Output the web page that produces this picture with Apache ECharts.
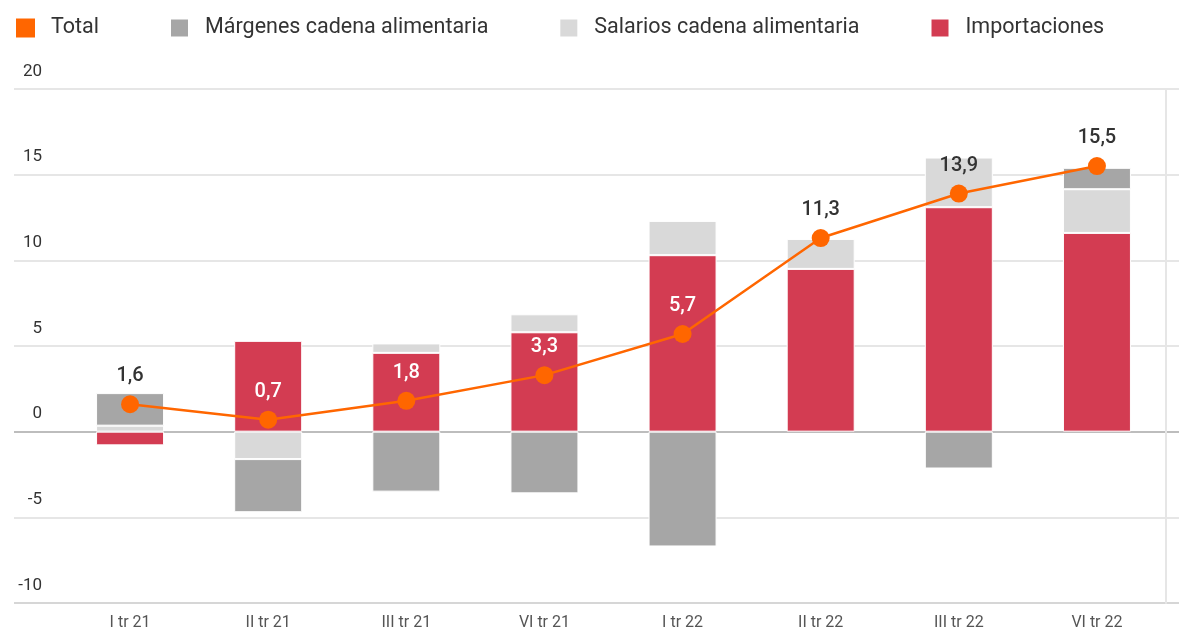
<!DOCTYPE html>
<html>
<head>
<meta charset="utf-8">
<script src="https://cdn.jsdelivr.net/npm/echarts@6/dist/echarts.min.js"></script>
<style>
  html, body { margin: 0; padding: 0; background: #fff; }
  #chart { width: 1179px; height: 632px; }
</style>
</head>
<body>
<div id="chart"></div>
<script>
// datos
var categories = ['I tr 21', 'II tr 21', 'III tr 21', 'VI tr 21', 'I tr 22', 'II tr 22', 'III tr 22', 'VI tr 22'];
var importaciones = [-0.8, 5.3, 4.6, 5.8, 10.3, 9.5, 13.1, 11.6];
var salarios = [0.35, -1.6, 0.55, 1.05, 2.0, 1.75, 2.9, 2.55];
var margenes = [1.9, -3.1, -3.5, -3.6, -6.7, 0, -2.15, 1.25];
var total = [1.6, 0.7, 1.8, 3.3, 5.7, 11.3, 13.9, 15.5];
var yTicks = [-10, -5, 0, 5, 10, 15, 20];

var FONT = 'Roboto, "Noto Sans", sans-serif';

function fmt(v) {
    return v.toFixed(1).replace('.', ',');
}

// etiqueta blanca cuando cae dentro de la barra roja
var totalData = total.map(function (v, i) {
    var inside = importaciones[i] > v + 1.5;
    return {
        value: v,
        label: { color: inside ? '#ffffff' : '#333333' }
    };
});

// lineas de cuadricula: la de cero mas oscura
var splitColors = yTicks.map(function (t) {
    if (t === 0) return '#bdbdbd';
    if (t === -10) return '#d6d6d6';
    return '#e6e6e6';
});

var chart = echarts.init(document.getElementById('chart'), null, { renderer: 'canvas' });

var option = {
    animation: false,
    textStyle: { fontFamily: FONT },
    legend: {
        left: 11,
        top: 12,
        icon: 'rect',
        itemWidth: 19,
        itemHeight: 19,
        itemGap: 70,
        textStyle: { fontSize: 21.5, color: '#333', fontFamily: FONT, padding: [0, 0, 0, 11] },
        data: ['Total', 'Márgenes cadena alimentaria', 'Salarios cadena alimentaria', 'Importaciones']
    },
    grid: [
        { left: 61, right: 13, top: 89, height: 514 },
        { left: 14, right: 0, top: 89, height: 514 }
    ],
    xAxis: [
        {
            type: 'category',
            gridIndex: 0,
            data: categories,
            axisLine: { show: false },
            axisTick: { show: false },
            axisLabel: {
                margin: 12,
                fontSize: 16,
                color: '#555',
                fontFamily: '"Liberation Sans Narrow", Roboto, sans-serif'
            }
        },
        {
            type: 'value',
            gridIndex: 1,
            min: 0,
            max: 1,
            show: false
        }
    ],
    yAxis: [
        {
            type: 'value',
            gridIndex: 0,
            min: -10,
            max: 20,
            interval: 5,
            splitLine: { show: false },
            axisLine: { show: false },
            axisTick: { show: false },
            axisLabel: {
                margin: 19,
                fontSize: 17,
                color: '#333',
                verticalAlign: 'bottom',
                lineHeight: 35
            }
        },
        {
            type: 'value',
            gridIndex: 1,
            min: -10,
            max: 20,
            interval: 5,
            axisLine: { show: false },
            axisTick: { show: false },
            axisLabel: { show: false },
            splitLine: { show: true, lineStyle: { color: splitColors, width: 2 } }
        },
        {
            type: 'value',
            gridIndex: 0,
            position: 'right',
            min: -10,
            max: 20,
            interval: 5,
            axisLine: { show: true, lineStyle: { color: '#e6e6e6', width: 2 } },
            axisTick: { show: false },
            axisLabel: { show: false },
            splitLine: { show: false }
        }
    ],
    series: [
        {
            name: 'Importaciones',
            type: 'bar',
            stack: 'a',
            barWidth: 68,
            itemStyle: { color: '#d33c52', borderColor: '#fff', borderWidth: 1 },
            data: importaciones
        },
        {
            name: 'Salarios cadena alimentaria',
            type: 'bar',
            stack: 'a',
            barWidth: 68,
            itemStyle: { color: '#d9d9d9', borderColor: '#fff', borderWidth: 1 },
            data: salarios
        },
        {
            name: 'Márgenes cadena alimentaria',
            type: 'bar',
            stack: 'a',
            barWidth: 68,
            itemStyle: { color: '#a6a6a6', borderColor: '#fff', borderWidth: 1 },
            data: margenes
        },
        {
            name: 'Total',
            type: 'line',
            z: 5,
            symbol: 'circle',
            symbolSize: 18,
            itemStyle: { color: '#ff6600' },
            lineStyle: { color: '#ff6600', width: 2.5 },
            label: {
                show: true,
                position: 'top',
                distance: 9,
                fontSize: 20,
                fontWeight: 500,
                fontFamily: FONT,
                formatter: function (p) { return fmt(p.value); }
            },
            data: totalData
        }
    ]
};

chart.setOption(option);
</script>
</body>
</html>
